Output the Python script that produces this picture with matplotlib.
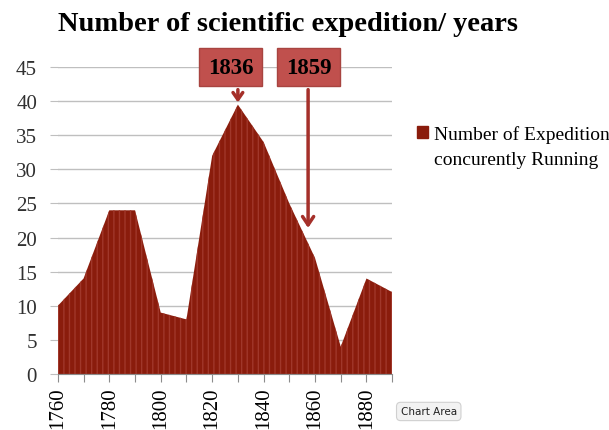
import matplotlib
matplotlib.use("Agg")
import matplotlib.pyplot as plt
import matplotlib.patches as mpatches

plt.rcParams['font.family'] = ['Liberation Serif', 'DejaVu Serif']
plt.rcParams['hatch.linewidth'] = 1.0

# data
years = [1760, 1770, 1780, 1790, 1800, 1810, 1820, 1830, 1840, 1850, 1860, 1870, 1880, 1890]
expeditions = [10, 14, 24, 24, 9, 8, 32, 39.5, 34, 25, 17, 4, 14, 12]
label_years = [1760, 1780, 1800, 1820, 1840, 1860, 1880]
yticks = [0, 5, 10, 15, 20, 25, 30, 35, 40, 45]

fill_color = '#8A1C0C'
stripe_color = '#A0372A'
box_color = '#C0504D'
arrow_color = '#A5302A'

fig = plt.figure(figsize=(6.09, 4.31), dpi=100)
ax = fig.add_axes([0.095, 0.13, 0.549, 0.712])

ax.fill_between(years, expeditions, 0, facecolor=fill_color, edgecolor=stripe_color,
                hatch='|||', linewidth=0, zorder=2)

ax.set_xlim(years[0], years[-1])
ax.set_ylim(0, 45)
ax.set_yticks(yticks)
ax.set_xticks(years)
ax.set_xticklabels([str(y) if y in label_years else '' for y in years], rotation=90)
ax.tick_params(axis='x', length=6, color='#8C8C8C', labelsize=15, pad=3)
ax.tick_params(axis='y', length=6, color='#BFBFBF', labelsize=15, pad=9, labelcolor='#303030')
ax.grid(axis='y', color='#BFBFBF', linewidth=1, zorder=0)
ax.set_axisbelow(True)
for side in ['top', 'right', 'left']:
    ax.spines[side].set_visible(False)
ax.spines['bottom'].set_color('#8C8C8C')

fig.text(0.473, 0.942, 'Number of scientific expedition/ years', ha='center', va='center',
         fontsize=20.5, fontweight='bold')

# callout boxes with arrows
ax.annotate('', xy=(1830, 39.4), xytext=(1830, 42.1),
            arrowprops=dict(arrowstyle='->,head_length=0.5,head_width=0.35', color=arrow_color, lw=2.5),
            zorder=4)
ax.annotate('', xy=(1857.3, 21), xytext=(1857.3, 42.1),
            arrowprops=dict(arrowstyle='->,head_length=0.6,head_width=0.4', color=arrow_color, lw=2.5),
            zorder=4)
for x, txt in [(1827.3, '1836'), (1857.5, '1859')]:
    ax.text(x, 45, txt, ha='center', va='center', fontsize=16.5, fontweight='bold', zorder=5,
            bbox=dict(boxstyle='square,pad=0.38', facecolor=box_color, edgecolor='#A84440', linewidth=1))

# legend: marker sits on the first line, second line wraps underneath
handle = mpatches.Patch(facecolor=fill_color, edgecolor=fill_color)
fig.legend(handles=[handle], labels=['Number of Expedition'],
           loc='center left', bbox_to_anchor=(0.684, 1 - 135 / 431), frameon=False, fontsize=14,
           handlelength=0.6, handleheight=0.6, handletextpad=0.3, borderaxespad=0, borderpad=0)
fig.text(0.7125, 1 - 161 / 431, 'concurently Running', fontsize=14, ha='left', va='center')

fig.text(0.704, 0.043, 'Chart Area', fontsize=7.5, family='DejaVu Sans', ha='center', va='center',
         color='#202020',
         bbox=dict(boxstyle='round,pad=0.4', facecolor='#F2F2F2', edgecolor='#D0D0D0', linewidth=0.8))

fig.savefig('out.png', dpi=100)
